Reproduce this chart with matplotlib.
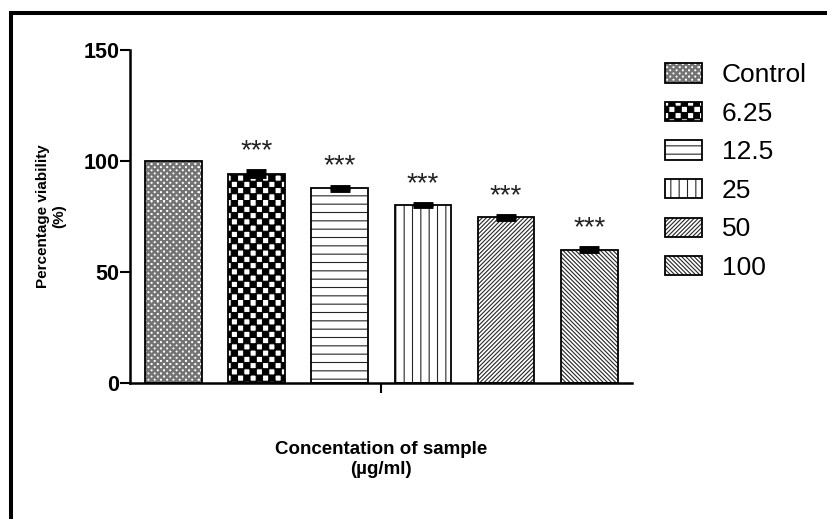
import warnings
import numpy as np
import matplotlib
matplotlib.use("Agg")
import matplotlib.pyplot as plt
import matplotlib.hatch as mhatch
from matplotlib import colors
from matplotlib.path import Path
from matplotlib.lines import Line2D

warnings.filterwarnings("ignore")

# data
groups = ['Control', '6.25', '12.5', '25', '50', '100']
viability = [100.0, 94.3, 87.6, 80.0, 74.6, 60.1]
sem = [0.0, 1.0, 0.8, 0.5, 0.6, 0.8]
stars = ['', '***', '***', '***', '***', '***']
hatches = ['kkkk', 'kk', '--', '||', '////////', '\\' * 8]
hatch_cols = ['0.45', 'black', '0.15', '0.15', '0.15', '0.15']


# checkerboard hatch (filled squares), one 'k' = 8 squares per hatch tile
class CheckerHatch(mhatch.HatchPatternBase):
    def __init__(self, hatch, density):
        self.n = 8 * hatch.count('k')
        self.num_vertices = 5 * (self.n * self.n // 2)

    def set_vertices_and_codes(self, vertices, codes):
        s = 1.0 / self.n
        sq = np.array([[0, 0], [1, 0], [1, 1], [0, 1], [0, 0]]) * s
        k = 0
        for i in range(self.n):
            for j in range(self.n):
                if (i + j) % 2 == 0:
                    vertices[k:k + 5] = sq + [i * s, j * s]
                    codes[k:k + 5] = [Path.MOVETO, Path.LINETO, Path.LINETO,
                                      Path.LINETO, Path.CLOSEPOLY]
                    k += 5


mhatch._hatch_types.append(CheckerHatch)

plt.rcParams['font.family'] = ['Liberation Sans', 'DejaVu Sans']
plt.rcParams['hatch.linewidth'] = 0.8

fig = plt.figure(figsize=(8.28, 5.19), dpi=100)
ax = fig.add_axes([0.157, 0.262, 0.606, 0.642])

x = np.arange(len(groups))
for xi, v, e, h, hc, lab, st in zip(x, viability, sem, hatches, hatch_cols, groups, stars):
    bars = ax.bar(xi, v, width=0.68, yerr=e if e > 0 else None, hatch=h, label=lab,
                  color='white', edgecolor='black', linewidth=1.3,
                  error_kw=dict(ecolor='black', elinewidth=2.5, capsize=7, capthick=3.5))
    for b in bars:
        if hasattr(b, 'set_hatchcolor'):
            b.set_hatchcolor(hc)
        else:
            b._hatch_color = colors.to_rgba(hc)
    if st:
        ax.text(xi, v + e + 9, st, ha='center', va='center', fontsize=20, color='#222222')

ax.set_xlim(-0.52, 5.51)
ax.set_ylim(0, 150)
ax.set_yticks([0, 50, 100, 150])
ax.set_xticks([2.5])
ax.set_xticklabels([''])
for lab in ax.get_yticklabels():
    lab.set_fontweight('bold')
ax.tick_params(axis='y', labelsize=15.5, length=7, width=1.5, pad=0.5)
ax.tick_params(axis='x', length=7, width=1.5)

for side in ['top', 'right']:
    ax.spines[side].set_visible(False)
for side in ['left', 'bottom']:
    ax.spines[side].set_linewidth(1.8)

ax.set_ylabel("Percentage viability\n(%)", fontsize=11, fontweight='bold')
ax.yaxis.set_label_coords(-0.127, 0.5)
ax.set_xlabel("Concentation of sample\n(\u00b5g/ml)", fontsize=13.5, fontweight='bold')
ax.xaxis.set_label_coords(0.5, -0.175)

fig.legend(loc='upper left', bbox_to_anchor=(0.803, 0.878), frameon=False,
           fontsize=19, handlelength=1.4, handleheight=0.75, handletextpad=0.76,
           labelspacing=0.55, borderpad=0, borderaxespad=0)

# outer frame
fig.add_artist(Line2D([0.0127, 1.0], [0.974, 0.974], color='black', lw=2.9,
                      transform=fig.transFigure))
fig.add_artist(Line2D([0.0127, 0.0127], [0.0, 0.974], color='black', lw=2.9,
                      transform=fig.transFigure))

fig.savefig('out.png', dpi=100)
